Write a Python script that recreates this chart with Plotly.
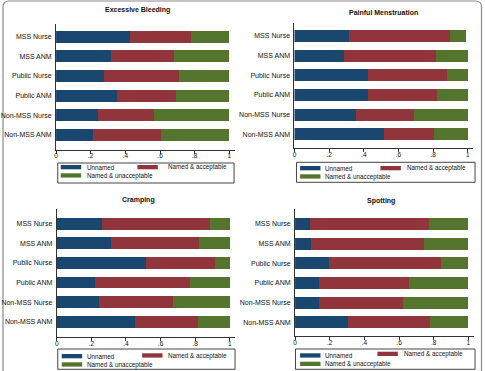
import plotly.graph_objects as go

W, H = 485, 371

categories = ["MSS Nurse", "MSS ANM", "Public Nurse", "Public ANM", "Non-MSS Nurse", "Non-MSS ANM"]
series_names = ["Unnamed", "Named & acceptable", "Named & unacceptable"]
colors = ["#1a476f", "#90353b", "#55752f"]

titles = ["Excessive Bleeding", "Painful Menstruation", "Cramping", "Spotting"]

bleeding_unnamed = [0.427, 0.316, 0.276, 0.351, 0.241, 0.213]
bleeding_accept = [0.353, 0.366, 0.435, 0.339, 0.326, 0.392]
bleeding_unaccept = [0.220, 0.318, 0.289, 0.310, 0.433, 0.395]

painful_unnamed = [0.312, 0.285, 0.427, 0.423, 0.354, 0.519]
painful_accept = [0.586, 0.533, 0.454, 0.401, 0.338, 0.284]
painful_unaccept = [0.092, 0.182, 0.119, 0.176, 0.308, 0.197]

cramping_unnamed = [0.259, 0.311, 0.516, 0.221, 0.246, 0.455]
cramping_accept = [0.628, 0.512, 0.398, 0.549, 0.428, 0.361]
cramping_unaccept = [0.113, 0.177, 0.086, 0.230, 0.326, 0.184]

spotting_unnamed = [0.084, 0.090, 0.197, 0.138, 0.138, 0.307]
spotting_accept = [0.686, 0.653, 0.646, 0.521, 0.487, 0.471]
spotting_unaccept = [0.230, 0.257, 0.157, 0.341, 0.375, 0.222]

panels_data = [
    [bleeding_unnamed, bleeding_accept, bleeding_unaccept],
    [painful_unnamed, painful_accept, painful_unaccept],
    [cramping_unnamed, cramping_accept, cramping_unaccept],
    [spotting_unnamed, spotting_accept, spotting_unaccept],
]

tick_vals = [0, 0.2, 0.4, 0.6, 0.8, 1]
tick_text = ["0", ".2", ".4", ".6", ".8", "1"]

# layout geometry in pixels
geo = [
    dict(x0=54.3, x1=228.3, top=24.0, bot=149.5, c0=36.7, c5=135.0, tx=135.7, ty=10.5,
         box=(56, 163, 233, 183), sw_b=(59, 165), sw_r=(136, 165), sw_g=(59, 173.3), tb=83, tr=165),
    dict(x0=293.7, x1=467.7, top=23.3, bot=148.3, c0=36.0, c5=134.3, tx=383.5, ty=12.0,
         box=(295.7, 162.3, 475, 182.3), sw_b=(299.3, 166), sw_r=(380, 166), sw_g=(299.3, 174.3), tb=322.3, tr=405),
    dict(x0=55.0, x1=228.7, top=209.3, bot=336.7, c0=223.7, c5=321.7, tx=136.7, ty=200.0,
         box=(56, 349, 234, 369.3), sw_b=(60, 354), sw_r=(140.7, 353.3), sw_g=(60, 362.3), tb=83.3, tr=165),
    dict(x0=294.3, x1=468.3, top=209.0, bot=335.7, c0=224.0, c5=322.3, tx=381.0, ty=200.7,
         box=(294.7, 349, 475, 369.3), sw_b=(299.3, 353.3), sw_r=(377, 351.7), sw_g=(299.3, 361.7), tb=322.3, tr=401.7),
]

FONT = "Arial, Liberation Sans, Helvetica, sans-serif"


def PX(p):
    return p / W


def PY(p):
    return 1 - p / H


fig = go.Figure()
shapes = []
annotations = []
layout_axes = {}

for i, (g, data, title) in enumerate(zip(geo, panels_data, titles)):
    k = "" if i == 0 else str(i + 1)
    for name, vals, col in zip(series_names, data, colors):
        fig.add_trace(go.Bar(
            y=categories, x=vals, orientation="h", name=name,
            marker=dict(color=col, line=dict(width=0)), width=0.6,
            xaxis="x" + k, yaxis="y" + k, showlegend=False,
        ))
    unit = (g["x1"] - g["x0"])
    xend = g["x0"] + 1.03 * unit
    layout_axes["xaxis" + k] = dict(
        domain=[PX(g["x0"]), PX(xend)], range=[0, 1.03], anchor="y" + k,
        showline=True, linecolor="#333", linewidth=1, ticks="outside", ticklen=3,
        tickcolor="#333", tickwidth=1, ticklabelstandoff=-3,
        tickvals=tick_vals, ticktext=tick_text, showgrid=False, zeroline=False,
        tickfont=dict(family=FONT, size=6.5, color="#111"), fixedrange=True,
    )
    s = (g["c5"] - g["c0"]) / 5
    r_top = -(g["c0"] - g["top"]) / s
    r_bot = 5 + (g["bot"] - g["c5"]) / s
    layout_axes["yaxis" + k] = dict(
        domain=[PY(g["bot"]), PY(g["top"])], range=[r_bot, r_top], anchor="x" + k,
        type="category", categoryorder="array", categoryarray=categories,
        showline=True, linecolor="#333", linewidth=1, ticks="", showgrid=False,
        zeroline=False, tickfont=dict(family=FONT, size=7, color="#111"),
        ticklabelstandoff=2, fixedrange=True,
    )
    annotations.append(dict(
        x=PX(g["tx"]), y=PY(g["ty"]), xref="paper", yref="paper",
        text="<b>" + title + "</b>", showarrow=False, xanchor="center", yanchor="middle",
        font=dict(family=FONT, size=7, color="#111"),
    ))
    # legend box
    bx0, by0, bx1, by1 = g["box"]
    shapes.append(dict(type="rect", xref="paper", yref="paper",
                       x0=PX(bx0), x1=PX(bx1), y0=PY(by1), y1=PY(by0),
                       line=dict(color="#444", width=1), fillcolor="white", layer="above"))
    for (sx, sy), col, txt, tx in [
        (g["sw_b"], colors[0], series_names[0], g["tb"]),
        (g["sw_r"], colors[1], series_names[1], g["tr"]),
        (g["sw_g"], colors[2], series_names[2], g["tb"]),
    ]:
        shapes.append(dict(type="rect", xref="paper", yref="paper",
                           x0=PX(sx), x1=PX(sx + 20.5), y0=PY(sy + 4.3), y1=PY(sy),
                           line=dict(width=0), fillcolor=col, layer="above"))
        annotations.append(dict(
            x=PX(tx), y=PY(sy + 2.2), xref="paper", yref="paper", text=txt,
            showarrow=False, xanchor="left", yanchor="middle",
            font=dict(family=FONT, size=6.3, color="#111"),
        ))

# outer rounded frame
r = 6
fx0, fy0, fx1, fy1 = 1, 1, 481.5, 378
path = (f"M {PX(fx0 + r)},{PY(fy0)} L {PX(fx1 - r)},{PY(fy0)} "
        f"Q {PX(fx1)},{PY(fy0)} {PX(fx1)},{PY(fy0 + r)} "
        f"L {PX(fx1)},{PY(fy1 - r)} Q {PX(fx1)},{PY(fy1)} {PX(fx1 - r)},{PY(fy1)} "
        f"L {PX(fx0 + r)},{PY(fy1)} Q {PX(fx0)},{PY(fy1)} {PX(fx0)},{PY(fy1 - r)} "
        f"L {PX(fx0)},{PY(fy0 + r)} Q {PX(fx0)},{PY(fy0)} {PX(fx0 + r)},{PY(fy0)} Z")
shapes.append(dict(type="path", xref="paper", yref="paper", path=path,
                   line=dict(color="#8a8a8a", width=1.2), layer="below"))

fig.update_layout(
    width=W, height=H, margin=dict(l=0, r=0, t=0, b=0),
    paper_bgcolor="white", plot_bgcolor="white",
    barmode="stack", bargap=0.4, showlegend=False,
    shapes=shapes, annotations=annotations,
    **layout_axes,
)

fig.write_html("out.html", config={"displayModeBar": False})
